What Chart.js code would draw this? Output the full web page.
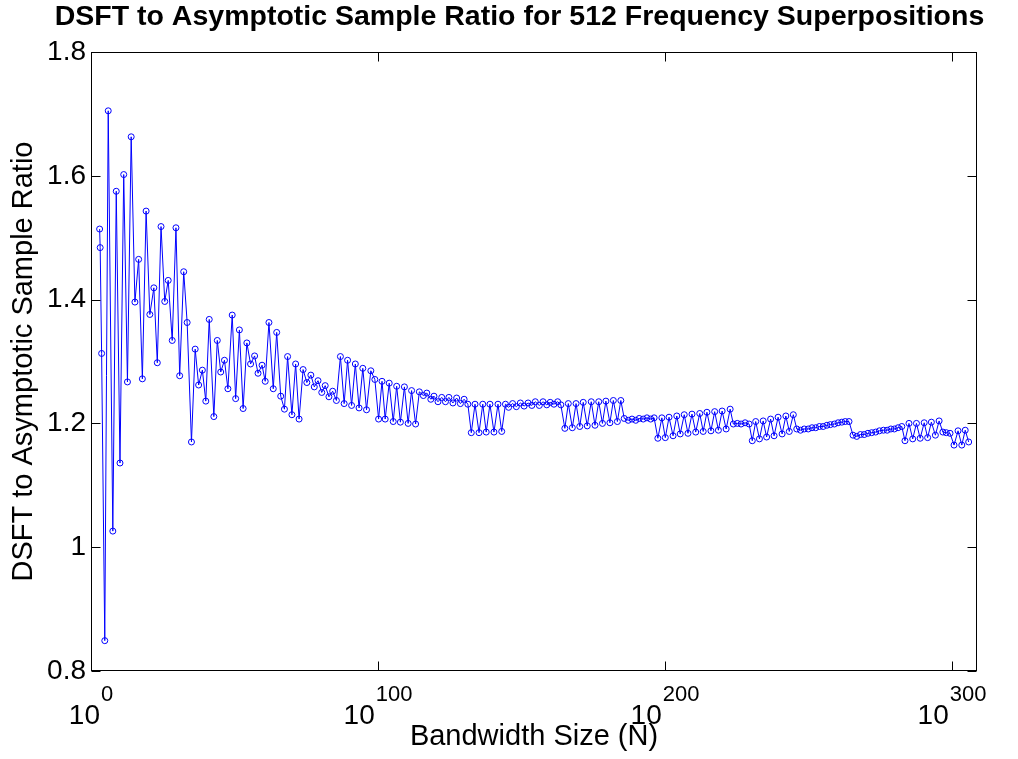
<!DOCTYPE html>
<html><head><meta charset="utf-8">
<script src="https://cdn.jsdelivr.net/npm/chart.js@4.4.0/dist/chart.umd.min.js"></script>
<style>html,body{margin:0;padding:0;background:#fff}canvas{display:block}</style>
</head><body>
<canvas id="c" width="1018" height="759"></canvas>
<script>
const chartTitle = 'DSFT to Asymptotic Sample Ratio for 512 Frequency Superpositions';
const xAxisTitle = 'Bandwidth Size (N)';
const yAxisTitle = 'DSFT to Asymptotic Sample Ratio';

const bandwidthN = [
3.0,3.2,3.7,4.8,6.0,7.6,8.8,10.1,11.4,12.7,
14.0,15.3,16.6,17.9,19.2,20.5,21.9,23.1,24.4,25.7,
26.9,28.3,29.6,30.9,32.3,33.5,35.0,36.3,37.5,38.8,
40.0,41.2,42.8,44.0,45.2,46.5,47.7,49.2,50.4,51.7,
53.0,54.3,55.6,57.0,58.2,59.6,60.7,62.0,63.5,64.7,
66.1,67.4,68.5,70.0,71.3,72.5,73.9,75.2,76.6,77.8,
79.1,80.4,81.6,82.9,84.2,85.5,86.9,88.2,89.4,90.8,
92.1,93.4,94.7,96.0,97.5,98.9,100.2,101.4,102.5,103.9,
105.3,106.5,107.8,109.2,110.5,111.7,113.1,114.4,115.8,117.0,
118.4,119.5,120.9,122.2,123.5,124.7,126.1,127.4,128.7,130.0,
131.3,132.5,133.8,135.2,136.5,137.7,139.0,140.4,141.8,143.1,
144.4,145.5,146.9,148.2,149.6,150.9,152.3,153.6,154.8,156.2,
157.5,158.8,160.0,161.3,162.6,163.7,165.1,166.3,167.7,169.0,
170.3,171.5,172.9,174.3,175.6,176.9,178.2,179.4,180.8,182.0,
183.4,184.6,185.8,187.2,188.5,189.8,191.0,192.4,193.7,195.0,
196.2,197.5,198.9,200.1,201.4,202.8,204.1,205.3,206.7,208.0,
209.4,210.7,212.1,213.3,214.6,216.0,217.3,218.6,219.9,221.3,
222.7,223.8,225.2,226.5,227.9,229.3,230.4,231.6,232.9,234.2,
235.4,236.8,238.0,239.4,240.8,242.1,243.3,244.7,245.9,247.2,
248.5,249.9,251.2,252.5,253.8,255.1,256.4,257.6,259.0,260.3,
261.6,262.8,264.1,265.5,266.8,268.1,269.4,270.7,272.0,273.4,
274.7,276.1,277.4,278.7,279.9,281.2,282.5,283.6,285.0,286.3,
287.6,288.9,290.3,291.5,292.8,294.2,295.5,296.8,298.0,299.3,
300.7,302.1,303.4,304.6,305.8
];

const sampleRatio = [
1.514,1.484,1.313,0.849,1.705,1.026,1.575,1.136,1.602,1.267,
1.663,1.396,1.465,1.272,1.543,1.376,1.419,1.298,1.518,1.397,
1.431,1.334,1.516,1.277,1.445,1.363,1.170,1.320,1.262,1.286,
1.236,1.368,1.211,1.334,1.283,1.302,1.256,1.375,1.240,1.351,
1.224,1.330,1.296,1.309,1.281,1.294,1.268,1.363,1.256,1.347,
1.244,1.223,1.308,1.214,1.296,1.207,1.287,1.266,1.278,1.259,
1.269,1.250,1.261,1.243,1.252,1.237,1.308,1.232,1.302,1.229,
1.296,1.225,1.289,1.222,1.285,1.271,1.207,1.268,1.207,1.265,
1.203,1.260,1.202,1.259,1.200,1.253,1.199,1.251,1.245,1.249,
1.239,1.244,1.235,1.242,1.235,1.242,1.233,1.241,1.232,1.239,
1.231,1.185,1.231,1.185,1.231,1.186,1.231,1.186,1.231,1.187,
1.231,1.226,1.232,1.227,1.233,1.228,1.233,1.229,1.235,1.229,
1.235,1.230,1.234,1.231,1.235,1.230,1.192,1.232,1.193,1.232,
1.195,1.234,1.196,1.235,1.197,1.235,1.200,1.236,1.201,1.237,
1.203,1.237,1.208,1.205,1.207,1.205,1.208,1.207,1.209,1.207,
1.209,1.176,1.209,1.177,1.210,1.180,1.212,1.183,1.214,1.184,
1.215,1.186,1.216,1.187,1.218,1.188,1.219,1.189,1.220,1.191,
1.223,1.199,1.200,1.199,1.201,1.199,1.172,1.203,1.175,1.204,
1.178,1.207,1.180,1.210,1.183,1.212,1.187,1.214,1.191,1.189,
1.191,1.191,1.193,1.193,1.195,1.195,1.197,1.198,1.199,1.201,
1.202,1.203,1.203,1.181,1.179,1.182,1.182,1.184,1.185,1.186,
1.188,1.189,1.189,1.191,1.191,1.193,1.195,1.172,1.200,1.175,
1.200,1.176,1.201,1.177,1.202,1.181,1.204,1.186,1.185,1.184,
1.165,1.188,1.165,1.189,1.170
];

const xTickValues = [0, 100, 200, 300];
const xTickBase = '10';
const xTickExponents = ['0', '100', '200', '300'];
const yTickValues = [0.8, 1.0, 1.2, 1.4, 1.6, 1.8];
const yTickLabels = ['0.8', '1', '1.2', '1.4', '1.6', '1.8'];

const FONT = '"Liberation Sans", Arial, Helvetica, sans-serif';

const framePlugin = {
  id: 'frame',
  afterDraw(chart) {
    const {ctx, chartArea: a, scales: {x, y}} = chart;
    ctx.save();
    ctx.strokeStyle = '#000';
    ctx.lineWidth = 1;
    const L = Math.round(a.left) + 0.5, R = Math.round(a.right) - 0.5;
    const T = Math.round(a.top) + 0.5, B = Math.round(a.bottom) - 0.5;
    ctx.strokeRect(L, T, R - L, B - T);
    const tl = 9;
    ctx.beginPath();
    xTickValues.forEach(v => {
      const px = Math.round(x.getPixelForValue(v)) + 0.5;
      ctx.moveTo(px, B); ctx.lineTo(px, B - tl);
      ctx.moveTo(px, T); ctx.lineTo(px, T + tl);
    });
    yTickValues.forEach(v => {
      const py = Math.round(y.getPixelForValue(v)) + 0.5;
      ctx.moveTo(L, py); ctx.lineTo(L + tl, py);
      ctx.moveTo(R, py); ctx.lineTo(R - tl, py);
    });
    ctx.stroke();
    // x tick labels: 10^k
    ctx.fillStyle = '#000';
    ctx.textBaseline = 'alphabetic';
    ctx.textAlign = 'left';
    xTickValues.forEach((v, i) => {
      const px = x.getPixelForValue(v);
      ctx.font = '28px ' + FONT;
      const w1 = ctx.measureText(xTickBase).width;
      ctx.font = '22px ' + FONT;
      const w2 = ctx.measureText(xTickExponents[i]).width;
      const gap = 1;
      const start = px - (w1 + gap + w2) / 2;
      ctx.font = '28px ' + FONT;
      ctx.fillText(xTickBase, start, a.bottom + 53);
      ctx.font = '22px ' + FONT;
      ctx.fillText(xTickExponents[i], start + w1 + gap, a.bottom + 30);
    });
    ctx.restore();
  }
};

new Chart(document.getElementById('c'), {
  type: 'line',
  data: {
    datasets: [{
      label: yAxisTitle,
      data: bandwidthN.map((n, i) => ({x: n, y: sampleRatio[i]})),
      borderColor: '#0000ff',
      borderWidth: 1,
      pointRadius: 3,
      pointHoverRadius: 3,
      pointStyle: 'circle',
      pointBackgroundColor: 'rgba(0,0,0,0)',
      pointBorderColor: '#0000ff',
      pointBorderWidth: 1,
      tension: 0,
      fill: false,
      xAxisID: 'x',
      yAxisID: 'y'
    }]
  },
  options: {
    responsive: false,
    animation: false,
    devicePixelRatio: 1,
    layout: {padding: {left: 21, right: 0, top: 0, bottom: 0}},
    plugins: {
      legend: {display: false},
      tooltip: {enabled: false},
      title: {
        display: true,
        text: chartTitle,
        color: '#000',
        font: {family: FONT, size: 28.5, weight: 'bold', lineHeight: 1},
        padding: {top: 2.75, bottom: 20.75}
      }
    },
    scales: {
      x: {
        type: 'linear',
        position: 'bottom',
        min: 0,
        max: 308.7,
        grid: {display: false, drawTicks: false},
        border: {display: false},
        ticks: {display: false},
        title: {
          display: true, text: xAxisTitle, color: '#000',
          font: {family: FONT, size: 29, lineHeight: 1},
          padding: {top: 0, bottom: 7.5}
        },
        afterFit: s => { s.height = 88; }
      },
      y: {
        type: 'linear',
        position: 'left',
        min: 0.8,
        max: 1.8,
        grid: {display: false, drawTicks: false},
        border: {display: false},
        ticks: {
          stepSize: 0.2,
          padding: 5,
          color: '#000',
          font: {family: FONT, size: 28},
          callback: (v) => {
            const i = yTickValues.findIndex(t => Math.abs(t - v) < 1e-6);
            return i >= 0 ? yTickLabels[i] : '';
          }
        },
        title: {
          display: true, text: yAxisTitle, color: '#000',
          font: {family: FONT, size: 29, lineHeight: 1},
          padding: {top: -11.5, bottom: 0}
        },
        afterFit: s => { s.width = 70; }
      },
      yRight: {
        type: 'linear',
        position: 'right',
        display: true,
        grid: {display: false, drawTicks: false},
        border: {display: false},
        ticks: {display: false},
        afterFit: s => { s.width = 41; }
      }
    }
  },
  plugins: [framePlugin]
});
</script>
</body></html>
